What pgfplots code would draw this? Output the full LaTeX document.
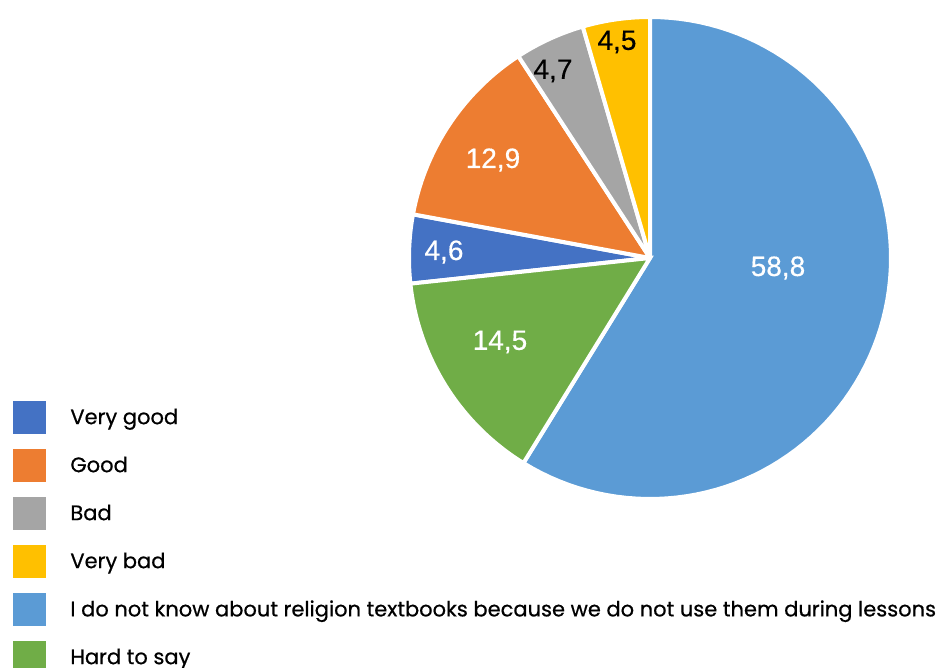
\documentclass[border=0pt]{standalone}
\usepackage{pgfplots}
\pgfplotsset{compat=1.18}
\usepackage{fontspec}
\setmainfont{Poppins}
\newfontfamily\legfont{Poppins}[FakeBold=0.6]
\newfontfamily\labelfont{Liberation Sans}[FakeBold=0.4]
\definecolor{cVG}{HTML}{4472C4}
\definecolor{cG}{HTML}{ED7D31}
\definecolor{cB}{HTML}{A5A5A5}
\definecolor{cVB}{HTML}{FFC000}
\definecolor{cDK}{HTML}{5B9BD5}
\definecolor{cHS}{HTML}{70AD47}
\begin{document}
\begin{tikzpicture}
\useasboundingbox (0,0) rectangle (471.5pt,334pt);
\begin{axis}[
  at={(0,0)}, anchor=south west,
  scale only axis, width=471.5pt, height=334pt,
  xmin=0, xmax=943, ymin=0, ymax=668,
  hide axis, clip=false,
  legend image code/.code={\fill[#1,draw=none] (0pt,-8.25pt) rectangle (16.5pt,8.25pt);},
  legend cell align=left,
  legend style={draw=none, fill=none, at={(axis cs:13,267)}, anchor=north west,
    inner sep=0pt, row sep=7.5pt,
    font=\legfont\fontsize{10.5}{12}\selectfont,
    nodes={inner sep=0pt},
    /tikz/every odd column/.append style={column sep=12pt}},
  every axis plot/.append style={draw=white, line width=2pt, samples=90, variable=\t},
]
% values (percent): Very good 4.6, Good 12.9, Bad 4.7, Very bad 4.5, Don't know 58.8, Hard to say 14.5
% angles: 3.6 deg per percent, clockwise from 90 deg
\addplot[fill=cVG, domain=-190.44:-173.88] ({650+241*cos(\t)},{410+241*sin(\t)}) -- (650,410) -- cycle;
\addlegendentry{Very good}
\addplot[fill=cG, domain=-236.88:-190.44] ({650+241*cos(\t)},{410+241*sin(\t)}) -- (650,410) -- cycle;
\addlegendentry{Good}
\addplot[fill=cB, domain=-253.8:-236.88] ({650+241*cos(\t)},{410+241*sin(\t)}) -- (650,410) -- cycle;
\addlegendentry{Bad}
\addplot[fill=cVB, domain=-270:-253.8] ({650+241*cos(\t)},{410+241*sin(\t)}) -- (650,410) -- cycle;
\addlegendentry{Very bad}
\addplot[fill=cDK, domain=-121.68:90] ({650+241*cos(\t)},{410+241*sin(\t)}) -- (650,410) -- cycle;
\addlegendentry{I do not know about religion textbooks because we do not use them during lessons}
\addplot[fill=cHS, domain=-173.88:-121.68] ({650+241*cos(\t)},{410+241*sin(\t)}) -- (650,410) -- cycle;
\addlegendentry{Hard to say}
\begin{scope}[every node/.style={font=\labelfont\fontsize{14}{16}\selectfont}]
\node[white] at (778,400) {58,8};
\node[white] at (500,326) {14,5};
\node[white] at (444,416) {4,6};
\node[white] at (493,508) {12,9};
\node[black] at (553,597) {4,7};
\node[black] at (617,626) {4,5};
\end{scope}
\end{axis}
\end{tikzpicture}
\end{document}
